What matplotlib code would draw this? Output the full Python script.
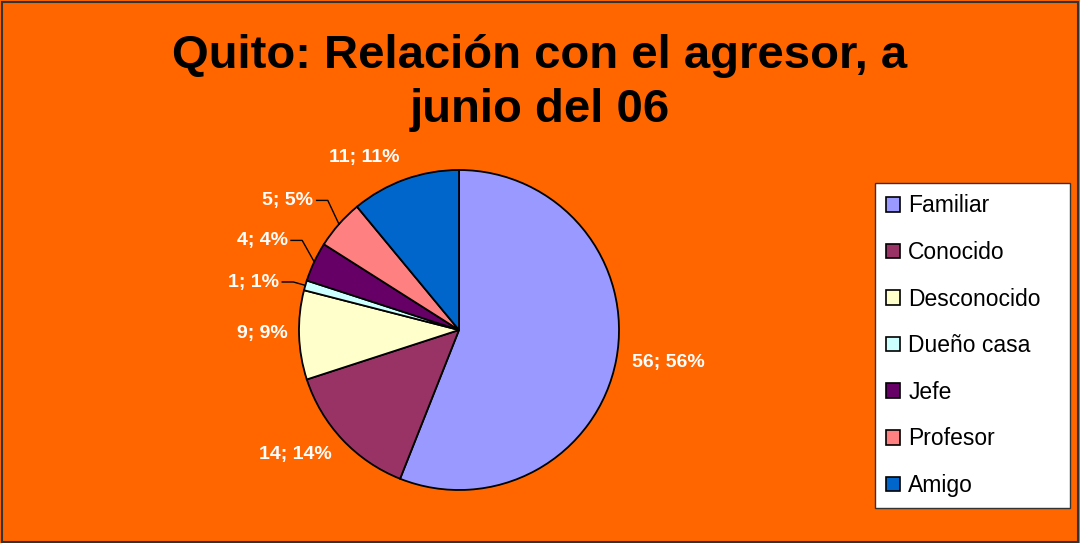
import numpy as np
import matplotlib
matplotlib.use("Agg")
import matplotlib.pyplot as plt
from matplotlib.patches import Patch, Rectangle

categories = ["Familiar", "Conocido", "Desconocido", "Dueño casa", "Jefe", "Profesor", "Amigo"]
values = [56, 14, 9, 1, 4, 5, 11]
percents = [56, 14, 9, 1, 4, 5, 11]
colors = ["#9999FF", "#993366", "#FFFFCC", "#CCFFFF", "#660066", "#FF8080", "#0066CC"]
title = "Quito: Relación con el agresor, a\njunio del 06"

plt.rcParams['font.family'] = ['Liberation Sans', 'DejaVu Sans']

W, H = 1080, 543
fig = plt.figure(figsize=(W / 100, H / 100), dpi=100, facecolor="#FF6600")

# border
fig.patches.append(Rectangle((0.002, 0.002), 0.996, 0.994, transform=fig.transFigure,
                             fill=False, edgecolor="#333333", linewidth=1.5))

cx, cy, r = 459, 330, 160
ax = fig.add_axes([(cx - r) / W, (H - cy - r) / H, 2 * r / W, 2 * r / H])
ax.set_facecolor("none")
wedges, _ = ax.pie(values, colors=colors, startangle=90, counterclock=False,
                   wedgeprops=dict(edgecolor="black", linewidth=1.3), radius=1.0)
ax.set_xlim(-1, 1)
ax.set_ylim(-1, 1)
ax.set_aspect("equal")
ax.axis("off")

# label placement style: (x, y, ha) in units of radius; leader for small slices
label_pos = [(1.31, -0.20, "center"), (-1.02, -0.78, "center"), (-1.23, -0.02, "center"),
             (-1.125, 0.30, "right"), (-1.07, 0.56, "right"), (-0.91, 0.81, "right"),
             (-0.59, 1.08, "center")]
leader = [False, False, False, True, True, True, False]

for w, v, p, (lx, ly, ha), ld in zip(wedges, values, percents, label_pos, leader):
    ax.text(lx, ly, f"{v}; {p}%", ha=ha, va="center", color="white",
            fontsize=14, fontweight="bold", clip_on=False)
    if ld:
        mid = np.deg2rad((w.theta1 + w.theta2) / 2)
        ex, ey = np.cos(mid), np.sin(mid)
        x0 = lx + 0.02
        x1 = lx + 0.09
        ax.plot([x0, x1, ex], [ly, ly, ey], color="black", linewidth=1.0, clip_on=False)

fig.text(0.5, 1 - 83 / H, title, ha="center", va="center", fontsize=34,
         fontweight="bold", color="black", linespacing=1.32)

handles = [Patch(facecolor=c, edgecolor="black", linewidth=1.2) for c in colors]
leg = fig.legend(handles, categories, loc="upper left",
                 bbox_to_anchor=(875 / W, 1 - 183 / H, 195 / W, 0.0001), mode="expand",
                 frameon=True, framealpha=1.0,
                 fontsize=16.5, handlelength=0.6, handleheight=0.6, handletextpad=0.35,
                 labelspacing=1.03, borderpad=0.5, fancybox=False, borderaxespad=0)
leg.get_frame().set_edgecolor("#333333")
leg.get_frame().set_facecolor("white")
leg.get_frame().set_linewidth(1.0)

fig.savefig("out.png", dpi=100, facecolor=fig.get_facecolor())
